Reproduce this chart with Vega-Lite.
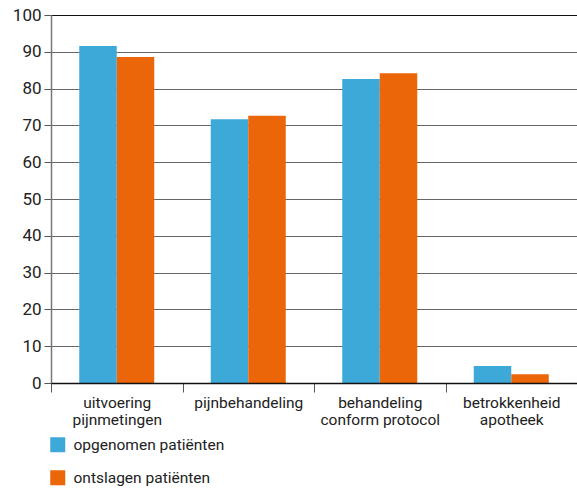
{
  "$schema": "https://vega.github.io/schema/vega-lite/v6.json",
  "width": 526,
  "height": 368,
  "autosize": {"type": "none"},
  "padding": {"left": 51, "top": 15, "right": 0, "bottom": 107},
  "background": "white",
  "config": {
    "view": {"stroke": null},
    "font": "Roboto"
  },
  "data": {
    "values": [
      {"categorie": "uitvoering pijnmetingen", "groep": "opgenomen patiënten", "waarde": 91.6},
      {"categorie": "uitvoering pijnmetingen", "groep": "ontslagen patiënten", "waarde": 88.6},
      {"categorie": "pijnbehandeling", "groep": "opgenomen patiënten", "waarde": 71.7},
      {"categorie": "pijnbehandeling", "groep": "ontslagen patiënten", "waarde": 72.6},
      {"categorie": "behandeling conform protocol", "groep": "opgenomen patiënten", "waarde": 82.6},
      {"categorie": "behandeling conform protocol", "groep": "ontslagen patiënten", "waarde": 84.2},
      {"categorie": "betrokkenheid apotheek", "groep": "opgenomen patiënten", "waarde": 4.6},
      {"categorie": "betrokkenheid apotheek", "groep": "ontslagen patiënten", "waarde": 2.4}
    ]
  },
  "mark": {"type": "bar"},
  "encoding": {
    "x": {
      "field": "categorie",
      "type": "nominal",
      "sort": null,
      "title": null,
      "scale": {"paddingInner": 0, "paddingOuter": 0},
      "axis": {
        "labelAngle": 0,
        "labelFontSize": 15.5,
        "labelColor": "#222",
        "labelLineHeight": 17,
        "labelPadding": 3,
        "labelExpr": "datum.value == 'uitvoering pijnmetingen' ? ['uitvoering', 'pijnmetingen'] : datum.value == 'behandeling conform protocol' ? ['behandeling', 'conform protocol'] : datum.value == 'betrokkenheid apotheek' ? ['betrokkenheid', 'apotheek'] : datum.value",
        "tickBand": "extent",
        "tickSize": 9,
        "tickColor": "#555",
        "domainColor": "#111",
        "domainWidth": 1.5,
        "grid": false,
        "zindex": 1
      }
    },
    "xOffset": {
      "field": "groep",
      "type": "nominal",
      "sort": ["opgenomen patiënten", "ontslagen patiënten"],
      "scale": {"paddingInner": 0, "paddingOuter": 0.753}
    },
    "y": {
      "field": "waarde",
      "type": "quantitative",
      "title": null,
      "scale": {"domain": [0, 100]},
      "axis": {
        "values": [0, 10, 20, 30, 40, 50, 60, 70, 80, 90, 100],
        "labelFontSize": 17,
        "labelColor": "#222",
        "labelPadding": 3,
        "tickSize": 7,
        "tickColor": "#555",
        "domainColor": "#777",
        "domainWidth": 1.5,
        "grid": true,
        "gridColor": {"condition": {"test": "datum.value === 100", "value": "#111"}, "value": "#666"},
        "gridWidth": 1.2
      }
    },
    "color": {
      "field": "groep",
      "type": "nominal",
      "sort": ["opgenomen patiënten", "ontslagen patiënten"],
      "scale": {"domain": ["opgenomen patiënten", "ontslagen patiënten"], "range": ["#3DA9D9", "#EB6608"]},
      "legend": {
        "title": null,
        "orient": "none",
        "legendX": -1,
        "legendY": 422,
        "symbolType": "square",
        "symbolSize": 225,
        "symbolStrokeWidth": 0,
        "labelFontSize": 15.5,
        "labelColor": "#222",
        "labelOffset": 8,
        "rowPadding": 16
      }
    }
  }
}
